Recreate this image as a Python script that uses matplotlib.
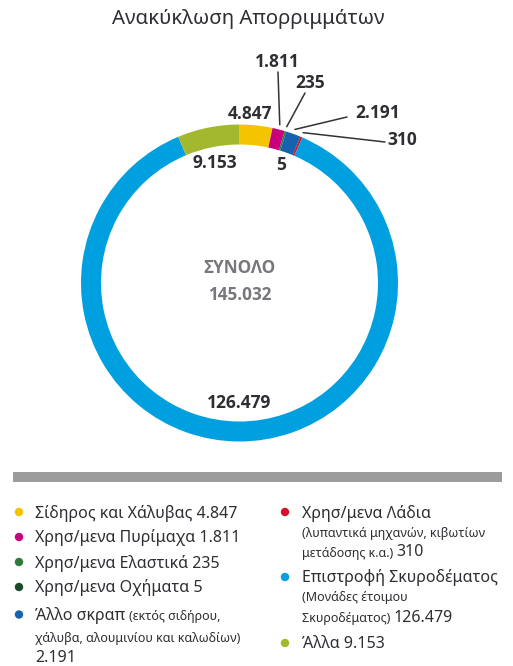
import matplotlib
matplotlib.use("Agg")
import matplotlib.pyplot as plt
from matplotlib.patches import Rectangle, Circle, ConnectionPatch
import numpy as np

plt.rcParams['font.family'] = ['Noto Sans', 'DejaVu Sans']
BOLD_FAM = ['Open Sans', 'DejaVu Sans']

# ---------------- data ----------------
title = "Ανακύκλωση Απορριμμάτων"
categories = ["Σίδηρος και Χάλυβας", "Χρησ/μενα Πυρίμαχα", "Χρησ/μενα Ελαστικά",
              "Χρησ/μενα Οχήματα", "Άλλο σκραπ", "Χρησ/μενα Λάδια",
              "Επιστροφή Σκυροδέματος", "Άλλα"]
values = [4847, 1811, 235, 5, 2191, 310, 126479, 9153]
colors = ["#F5C400", "#C8007E", "#2E7A3C", "#1B4A2A", "#1563AE", "#D1122C",
          "#009FE0", "#A3B82F"]
total_title = "ΣΥΝΟΛΟ"
total_value = 145032
notes = {4: ["(εκτός σιδήρου,", "χάλυβα, αλουμινίου και καλωδίων)"],
         5: ["(λυπαντικά μηχανών, κιβωτίων", "μετάδοσης κ.α.)"],
         6: ["(Μονάδες έτοιμου", "Σκυροδέματος)"]}


def fmt(v):
    return f"{v:,}".replace(",", ".")


W, H = 513, 666
fig = plt.figure(figsize=(W / 100, H / 100), dpi=100)

# donut geometry (pixels)
cx, cy, R, ring = 239.5, 283.0, 158.5, 20.0
ax = fig.add_axes([(cx - R) / W, (H - cy - R) / H, 2 * R / W, 2 * R / H])
ax.pie(values, colors=colors, startangle=90, counterclock=False, radius=1,
       wedgeprops=dict(width=ring / R, edgecolor='none', linewidth=0))
ax.set_xlim(-1, 1)
ax.set_ylim(-1, 1)
ax.set_aspect('equal')
ax.axis('off')

ov = fig.add_axes([0, 0, 1, 1])
ov.set_xlim(0, W)
ov.set_ylim(H, 0)
ov.axis('off')
ov.patch.set_alpha(0)

TXT = "#2e2e33"
ov.text(248, 19, title, ha='center', va='center', fontsize=14.7, color=TXT)

# centre text
ov.text(cx, 268, total_title, ha='center', va='center', fontsize=12.3,
        fontweight='bold', family=BOLD_FAM, color='#77777c')
ov.text(cx, 295, fmt(total_value), ha='center', va='center', fontsize=12.3,
        fontweight='bold', family=BOLD_FAM, color='#77777c')

# value labels: text position, optional leader-line text end
label_pos = [(250, 114), (277, 62), (310, 83), (281, 165), (378, 113),
             (402, 140), (238.7, 403), (215, 163)]
leader_end = [None, (278, 72), (305, 93), None, (347, 117), (385, 142),
              None, None]

total = float(sum(values))
cum = np.concatenate([[0], np.cumsum(values)])
for i, v in enumerate(values):
    tx, ty = label_pos[i]
    ov.text(tx, ty, fmt(v), ha='center', va='center', fontsize=12.5,
            fontweight='bold', family=BOLD_FAM, color=TXT)
    if leader_end[i] is not None:
        mid = 90 - (cum[i] + v / 2) / total * 360
        px, py = 1.03 * np.cos(np.radians(mid)), 1.03 * np.sin(np.radians(mid))
        cp = ConnectionPatch(xyA=leader_end[i], coordsA=ov.transData,
                             xyB=(px, py), coordsB=ax.transData,
                             color='#333333', lw=1.1)
        fig.add_artist(cp)

# separator bar
ov.add_patch(Rectangle((13, 472), 489, 10, color='#9c9c9c', lw=0))

# legend
L, S = 11.5, 9.0
renderer = fig.canvas.get_renderer()


def draw_runs(x, y, parts):
    for txt, size in parts:
        t = ov.text(x, y, txt, fontsize=size, va='baseline', ha='left', color=TXT)
        bb = t.get_window_extent(renderer=renderer)
        x += bb.width


def entry_lines(i):
    v = fmt(values[i])
    if i == 4:
        return [[(categories[i] + " ", L), (notes[i][0], S)],
                [(notes[i][1], S)], [(v, L)]]
    if i in (5, 6):
        return [[(categories[i], L)], [(notes[i][0], S)],
                [(notes[i][1] + " ", S), (v, L)]]
    return [[(categories[i] + " " + v, L)]]


col1 = [0, 1, 2, 3, 4]
col2 = [5, 6, 7]
col1_y = [[517.5], [542.5], [567.5], [592.5], [620, 642, 662.5]]
col2_y = [[517.5, 536.5, 556.5], [582.5, 601.5, 622], [648.5]]
for col, ys, dx, tx in [(col1, col1_y, 19, 35), (col2, col2_y, 285, 301.5)]:
    for i, yl in zip(col, ys):
        ov.add_patch(Circle((dx, yl[0] - 5.5), 4.2, color=colors[i], lw=0))
        for parts, y in zip(entry_lines(i), yl):
            draw_runs(tx, y, parts)

fig.savefig("out.png", dpi=100)
